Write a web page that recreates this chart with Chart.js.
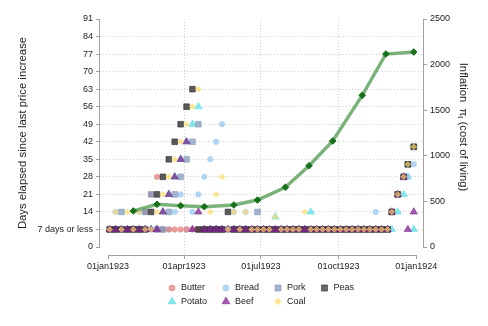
<!DOCTYPE html>
<html><head><meta charset="utf-8">
<script src="https://cdn.jsdelivr.net/npm/chart.js@4/dist/chart.umd.min.js"></script>
<style>html,body{margin:0;padding:0;background:#fff}#wrap{width:488px;height:326px;position:relative}</style>
</head><body><div id="wrap"><canvas id="c" width="488" height="326"></canvas></div>
<script>
// ---- tick definitions ----
const dayTicks = [0, 90, 181, 273, 365];
const dayTickLabels = ['01jan1923', '01apr1923', '01jul1923', '01oct1923', '01jan1924'];
const leftTicks = [0, 7, 14, 21, 28, 35, 42, 49, 56, 63, 70, 77, 84, 91];
const rightTicks = [0, 500, 1000, 1500, 2000, 2500];

// ---- observation dates (days since 01jan1923) ----
const obsDays = [2, 9, 16, 23, 30, 37, 44, 51, 58, 65,
  72, 79, 86, 93, 100, 107, 114, 121, 128, 135,
  142, 149, 156, 163, 170, 177, 184, 191, 198, 205,
  212, 219, 226, 233, 240, 247, 254, 261, 268, 275,
  282, 289, 296, 303, 310, 317, 324, 331, 336, 343,
  350, 355, 362];

// ---- days elapsed since last price increase ----
const butter = [7, 7, 7, 7, 7, 7, 14, 21, 28, 7,
  7, 7, 7, 7, 7, 7, 7, 7, 7, 7,
  7, 7, 7, 7, 7, 7, 7, 7, 7, 7,
  7, 7, 7, 7, 7, 7, 7, 7, 7, 7,
  7, 7, 7, 7, 7, 7, 7, 7, 14, 21,
  28, 33, 40];
const bread = [7, 14, 7, 7, 7, 14, 7, 7, 7, 7,
  7, 14, 21, 7, 14, 21, 28, 35, 42, 49,
  7, 14, 7, 14, 7, 7, 7, 7, 7, 7,
  7, 7, 7, 7, 7, 7, 7, 7, 7, 7,
  7, 7, 7, 7, 7, 14, 7, 7, 14, 21,
  28, 28, 33];
const pork = [7, 7, 14, 7, 7, 7, 14, 21, 7, 7,
  14, 21, 28, 35, 42, 49, 7, 7, 7, 7,
  7, 7, 7, 7, 7, 14, 7, 7, 7, 7,
  7, 7, 7, 7, 7, 7, 7, 7, 7, 7,
  7, 7, 7, 7, 7, 7, 7, 7, 14, 21,
  28, 33, 40];
const peas = [7, 7, 7, 7, 7, 7, 7, 14, 21, 28,
  35, 42, 49, 56, 63, 7, 7, 7, 7, 7,
  14, 7, 7, 7, 7, 7, 7, 7, 7, 7,
  7, 7, 7, 7, 7, 7, 7, 7, 7, 7,
  7, 7, 7, 7, 7, 7, 7, 7, 14, 21,
  28, 33, 40];
const potato = [7, 7, 7, 7, 7, 7, 7, 7, 7, 14,
  21, 28, 35, 42, 49, 56, 7, 7, 7, 7,
  7, 7, 7, 7, 7, 7, 7, 7, 12, 7,
  7, 7, 7, 7, 14, 7, 7, 7, 7, 7,
  7, 7, 7, 7, 7, 7, 7, 7, 7, 14,
  21, 28, 7];
const beef = [7, 7, 7, 7, 7, 7, 7, 7, 7, 14,
  21, 28, 35, 42, 7, 14, 7, 7, 7, 7,
  7, 7, 7, 7, 7, 7, 7, 7, 7, 7,
  7, 7, 7, 7, 7, 7, 7, 7, 7, 7,
  7, 7, 7, 7, 7, 7, 7, 7, 14, 21,
  28, 7, 14];
const coal = [7, 14, 7, 14, 7, 14, 7, 7, 14, 21,
  28, 35, 42, 49, 56, 63, null, 14, 21, 28,
  7, 14, 7, 14, 7, 7, 7, 7, 12, 7,
  7, 7, 7, 14, 7, 7, 7, 7, 7, 7,
  7, 7, 7, 7, 7, 7, 7, 7, 14, 21,
  28, 33, 40];

// ---- inflation (cost of living) ----
const inflDays = [30, 58, 86, 114, 149, 177, 210, 238, 266, 301, 329, 362];
const inflation = [395, 468, 453, 442, 461, 515, 655, 891, 1162, 1663, 2116, 2138];

// ---- series styling ----
const seriesNames = ['Butter', 'Bread', 'Pork', 'Peas', 'Potato', 'Beef', 'Coal'];
const seriesValues = [butter, bread, pork, peas, potato, beef, coal];
const seriesColors = ['232,122,122', '150,200,240', '128,152,188', '45,45,45', '85,222,232', '125,35,140', '255,218,100'];
const seriesAlpha = [0.72, 0.72, 0.72, 0.78, 0.72, 0.74, 0.66];
const seriesShapes = ['circle', 'circle', 'rect', 'rect', 'triangle', 'triangle', 'rectRot'];
// drawing depth: larger = drawn earlier (further below)
const seriesDepth = [7, 8, 6, 5, 9, 4, 3];
const shapeRadius = {circle: 2.7, rect: 4, triangle: 4.2, rectRot: 2.9};

Chart.defaults.font.family = '"Liberation Sans", Arial, sans-serif';
Chart.defaults.color = '#222';

function toPoints(xs, ys) {
  const out = [];
  for (let i = 0; i < xs.length; i++) if (ys[i] !== null) out.push({x: xs[i], y: ys[i]});
  return out;
}
const rgba = (c, a) => 'rgba(' + c + ',' + a + ')';

const datasets = [];
datasets.push({
  type: 'line', label: 'Inflation', yAxisID: 'y2', order: 1,
  data: toPoints(inflDays, inflation), showLine: true,
  borderColor: 'rgba(70,150,70,0.72)', borderWidth: 3.4,
  pointStyle: 'rectRot', pointRadius: 3.3,
  pointBackgroundColor: '#17701a', pointBorderColor: '#17701a', pointBorderWidth: 1
});
seriesNames.forEach((n, i) => {
  const c = seriesColors[i];
  datasets.push({
    type: 'scatter', label: n, yAxisID: 'y', order: seriesDepth[i],
    data: toPoints(obsDays, seriesValues[i]),
    pointStyle: seriesShapes[i], pointRadius: shapeRadius[seriesShapes[i]],
    backgroundColor: rgba(c, seriesAlpha[i]),
    borderColor: rgba(c, seriesAlpha[i]), borderWidth: 0.8
  });
});

const PX_LEFT = 100, PX_RIGHT = 423, PX_TOP = 19, PX_BOTTOM = 255;

function drawMarker(ctx, shape, r, x, y, c, a) {
  ctx.save();
  ctx.fillStyle = rgba(c, a);
  ctx.strokeStyle = rgba(c, a);
  ctx.lineWidth = 0.8;
  ctx.beginPath();
  if (shape === 'circle') ctx.arc(x, y, r, 0, Math.PI * 2);
  else if (shape === 'rect') { const s = r * Math.SQRT1_2; ctx.rect(x - s, y - s, 2 * s, 2 * s); }
  else if (shape === 'triangle') {
    const w = r * Math.sqrt(3) / 2;
    ctx.moveTo(x, y - r); ctx.lineTo(x + w, y + r / 2); ctx.lineTo(x - w, y + r / 2);
  } else if (shape === 'rectRot') {
    ctx.moveTo(x - r, y); ctx.lineTo(x, y - r); ctx.lineTo(x + r, y); ctx.lineTo(x, y + r);
  }
  ctx.closePath(); ctx.fill(); ctx.stroke();
  ctx.restore();
}

const decorPlugin = {
  id: 'decor',
  beforeDatasetsDraw(chart) {
    const ctx = chart.ctx, xs = chart.scales.x, ys = chart.scales.y;
    ctx.save();
    ctx.strokeStyle = '#a0a0a0'; ctx.lineWidth = 1;
    const yTop = ys.getPixelForValue(91), yBot = ys.getPixelForValue(0);
    ctx.beginPath();
    ctx.moveTo(chart.chartArea.left - 0.5, yTop); ctx.lineTo(chart.chartArea.left - 0.5, yBot);
    ctx.moveTo(chart.chartArea.right + 0.5, yTop); ctx.lineTo(chart.chartArea.right + 0.5, yBot);
    const xl = xs.getPixelForValue(dayTicks[0]), xr = xs.getPixelForValue(dayTicks[dayTicks.length - 1]);
    ctx.moveTo(xl, chart.chartArea.bottom + 0.5); ctx.lineTo(xr, chart.chartArea.bottom + 0.5);
    ctx.stroke();
    ctx.restore();
  },
  afterDraw(chart) {
    const ctx = chart.ctx;
    ctx.save();
    ctx.fillStyle = '#222';
    // left title
    ctx.save();
    ctx.translate(23, 133);
    ctx.rotate(-Math.PI / 2);
    ctx.font = '11.3px "Liberation Sans", Arial, sans-serif';
    ctx.textAlign = 'center'; ctx.textBaseline = 'middle';
    ctx.fillText('Days elapsed since last price increase', 0, 0);
    ctx.restore();
    // right title with subscript
    ctx.save();
    ctx.translate(463, 127);
    ctx.rotate(Math.PI / 2);
    ctx.textBaseline = 'middle'; ctx.textAlign = 'left';
    const parts = [['Inflation  \u03C0', 11.3, 0], ['t', 7.5, 3], [' (cost of living)', 11.3, 0]];
    let total = 0;
    parts.forEach(p => { ctx.font = p[1] + 'px "Liberation Sans", Arial, sans-serif'; total += ctx.measureText(p[0]).width; });
    let px = -total / 2;
    parts.forEach(p => {
      ctx.font = p[1] + 'px "Liberation Sans", Arial, sans-serif';
      ctx.fillText(p[0], px, p[2]);
      px += ctx.measureText(p[0]).width;
    });
    ctx.restore();
    // legend (4 columns x 2 rows)
    const colMarker = [172, 226, 278, 324.5];
    const rowY = [288, 301.5];
    ctx.font = '9px "Liberation Sans", Arial, sans-serif';
    ctx.textAlign = 'left'; ctx.textBaseline = 'middle';
    seriesNames.forEach((n, i) => {
      const col = i % 4, row = Math.floor(i / 4);
      const shape = seriesShapes[i];
      drawMarker(ctx, shape, shapeRadius[shape] + 0.3, colMarker[col], rowY[row], seriesColors[i], 0.72);
      ctx.fillStyle = '#222';
      ctx.fillText(n, colMarker[col] + 9, rowY[row]);
    });
    ctx.restore();
  }
};

const gridColorY = c => (c.tick && (c.tick.value === 0 || c.tick.value === 91)) ? 'rgba(0,0,0,0)' : '#cfcfcf';
const gridColorX = c => (c.tick && (c.tick.value === 0 || c.tick.value === 365)) ? 'rgba(0,0,0,0)' : '#cfcfcf';

new Chart(document.getElementById('c'), {
  type: 'scatter',
  data: {datasets},
  options: {
    responsive: false, animation: false, events: [], devicePixelRatio: 1,
    layout: {padding: {top: PX_TOP, left: 0, right: 0, bottom: 0}},
    plugins: {legend: {display: false}, tooltip: {enabled: false}},
    scales: {
      x: {
        type: 'linear', position: 'bottom',
        min: (PX_LEFT - 108) / (308.3 / 365), max: (PX_RIGHT - 108) / (308.3 / 365),
        afterBuildTicks: s => { s.ticks = dayTicks.map(v => ({value: v})); },
        afterFit: s => { s.height = 326 - PX_BOTTOM; },
        ticks: {autoSkip: false, maxRotation: 0, padding: 2, font: {size: 9}, color: '#222',
          callback: v => dayTickLabels[dayTicks.indexOf(v)]},
        grid: {color: gridColorX, tickColor: '#a0a0a0', tickLength: 4, lineWidth: 1},
        border: {display: false, dash: [1, 2]}
      },
      y: {
        type: 'linear', position: 'left',
        min: -91 * 8 / 228, max: 91,
        afterBuildTicks: s => { s.ticks = leftTicks.map(v => ({value: v})); },
        afterFit: s => { s.width = PX_LEFT; },
        ticks: {autoSkip: false, padding: 3, font: {size: 9}, color: '#222',
          callback: v => v === 7 ? '7 days or less' : String(v)},
        grid: {color: gridColorY, tickColor: '#a0a0a0', tickLength: 4, lineWidth: 1},
        border: {display: false, dash: [1, 2]}
      },
      y2: {
        type: 'linear', position: 'right',
        min: -2500 * 8 / 228, max: 2500,
        afterBuildTicks: s => { s.ticks = rightTicks.map(v => ({value: v})); },
        afterFit: s => { s.width = 488 - PX_RIGHT; },
        ticks: {autoSkip: false, padding: 3, font: {size: 9}, color: '#222',
          callback: v => String(v)},
        grid: {drawOnChartArea: false, tickColor: '#a0a0a0', tickLength: 4},
        border: {display: false}
      }
    }
  },
  plugins: [decorPlugin]
});
</script>
</body></html>
